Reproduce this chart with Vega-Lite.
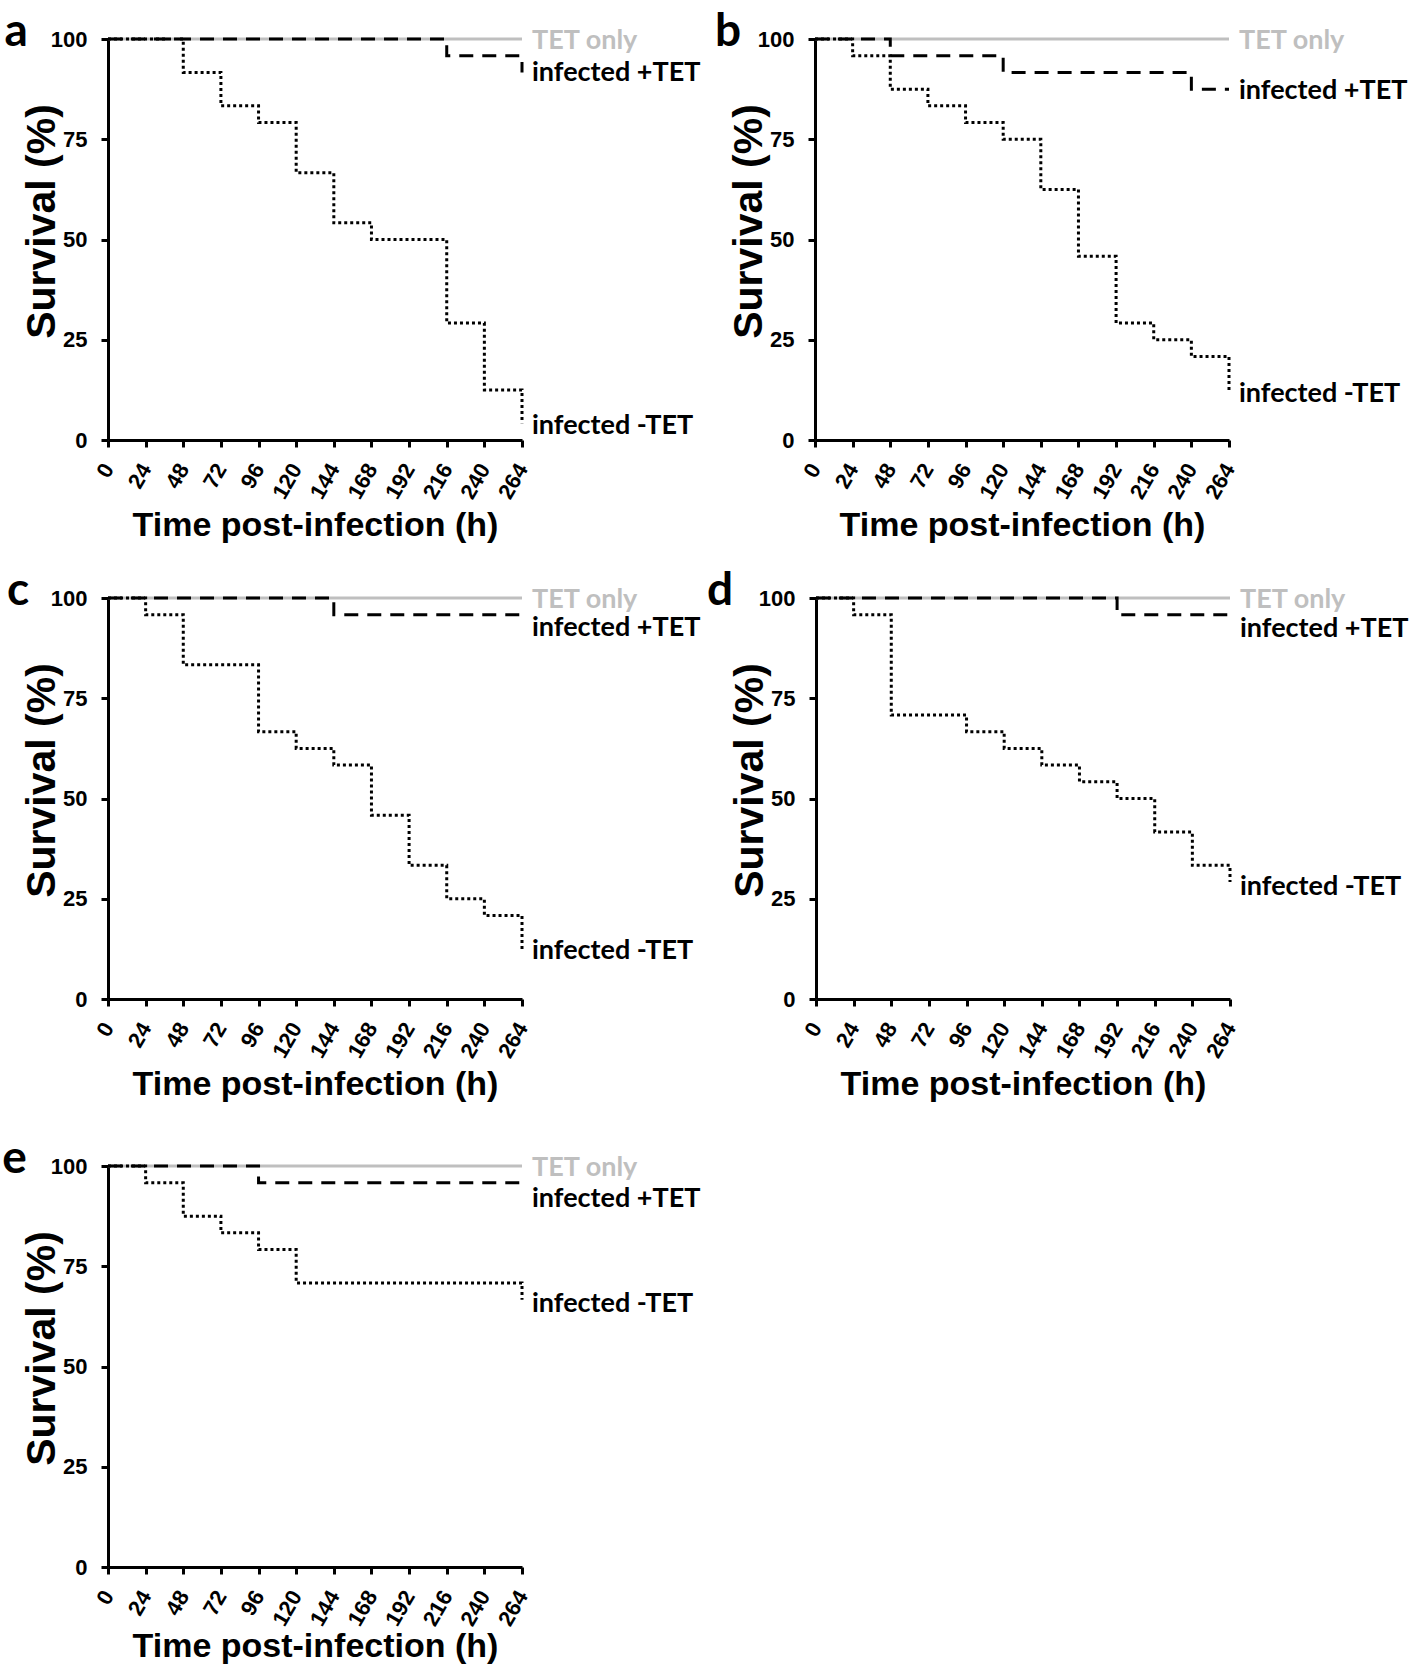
{
  "$schema": "https://vega.github.io/schema/vega-lite/v6.json",
  "background": "white",
  "padding": {"left": 2, "top": 9, "right": 2, "bottom": 0},
  "datasets": {
    "surv": [
      {"panel": "a", "series": "TET only", "t": 0, "s": 100},
      {"panel": "a", "series": "TET only", "t": 264, "s": 100},
      {"panel": "a", "series": "infected +TET", "t": 0, "s": 100},
      {"panel": "a", "series": "infected +TET", "t": 216, "s": 95.83},
      {"panel": "a", "series": "infected +TET", "t": 264, "s": 91.67},
      {"panel": "a", "series": "infected -TET", "t": 0, "s": 100},
      {"panel": "a", "series": "infected -TET", "t": 48, "s": 91.67},
      {"panel": "a", "series": "infected -TET", "t": 72, "s": 83.33},
      {"panel": "a", "series": "infected -TET", "t": 96, "s": 79.17},
      {"panel": "a", "series": "infected -TET", "t": 120, "s": 66.67},
      {"panel": "a", "series": "infected -TET", "t": 144, "s": 54.17},
      {"panel": "a", "series": "infected -TET", "t": 168, "s": 50},
      {"panel": "a", "series": "infected -TET", "t": 216, "s": 29.17},
      {"panel": "a", "series": "infected -TET", "t": 240, "s": 12.5},
      {"panel": "a", "series": "infected -TET", "t": 264, "s": 4.17},

      {"panel": "b", "series": "TET only", "t": 0, "s": 100},
      {"panel": "b", "series": "TET only", "t": 264, "s": 100},
      {"panel": "b", "series": "infected +TET", "t": 0, "s": 100},
      {"panel": "b", "series": "infected +TET", "t": 48, "s": 95.83},
      {"panel": "b", "series": "infected +TET", "t": 120, "s": 91.67},
      {"panel": "b", "series": "infected +TET", "t": 240, "s": 87.5},
      {"panel": "b", "series": "infected +TET", "t": 264, "s": 87.5},
      {"panel": "b", "series": "infected -TET", "t": 0, "s": 100},
      {"panel": "b", "series": "infected -TET", "t": 24, "s": 95.83},
      {"panel": "b", "series": "infected -TET", "t": 48, "s": 87.5},
      {"panel": "b", "series": "infected -TET", "t": 72, "s": 83.33},
      {"panel": "b", "series": "infected -TET", "t": 96, "s": 79.17},
      {"panel": "b", "series": "infected -TET", "t": 120, "s": 75},
      {"panel": "b", "series": "infected -TET", "t": 144, "s": 62.5},
      {"panel": "b", "series": "infected -TET", "t": 168, "s": 45.83},
      {"panel": "b", "series": "infected -TET", "t": 192, "s": 29.17},
      {"panel": "b", "series": "infected -TET", "t": 216, "s": 25},
      {"panel": "b", "series": "infected -TET", "t": 240, "s": 20.83},
      {"panel": "b", "series": "infected -TET", "t": 264, "s": 12.5},

      {"panel": "c", "series": "TET only", "t": 0, "s": 100},
      {"panel": "c", "series": "TET only", "t": 264, "s": 100},
      {"panel": "c", "series": "infected +TET", "t": 0, "s": 100},
      {"panel": "c", "series": "infected +TET", "t": 144, "s": 95.83},
      {"panel": "c", "series": "infected +TET", "t": 264, "s": 95.83},
      {"panel": "c", "series": "infected -TET", "t": 0, "s": 100},
      {"panel": "c", "series": "infected -TET", "t": 24, "s": 95.83},
      {"panel": "c", "series": "infected -TET", "t": 48, "s": 83.33},
      {"panel": "c", "series": "infected -TET", "t": 96, "s": 66.67},
      {"panel": "c", "series": "infected -TET", "t": 120, "s": 62.5},
      {"panel": "c", "series": "infected -TET", "t": 144, "s": 58.33},
      {"panel": "c", "series": "infected -TET", "t": 168, "s": 45.83},
      {"panel": "c", "series": "infected -TET", "t": 192, "s": 33.33},
      {"panel": "c", "series": "infected -TET", "t": 216, "s": 25},
      {"panel": "c", "series": "infected -TET", "t": 240, "s": 20.83},
      {"panel": "c", "series": "infected -TET", "t": 264, "s": 12.5},

      {"panel": "d", "series": "TET only", "t": 0, "s": 100},
      {"panel": "d", "series": "TET only", "t": 264, "s": 100},
      {"panel": "d", "series": "infected +TET", "t": 0, "s": 100},
      {"panel": "d", "series": "infected +TET", "t": 192, "s": 95.83},
      {"panel": "d", "series": "infected +TET", "t": 264, "s": 95.83},
      {"panel": "d", "series": "infected -TET", "t": 0, "s": 100},
      {"panel": "d", "series": "infected -TET", "t": 24, "s": 95.83},
      {"panel": "d", "series": "infected -TET", "t": 48, "s": 70.83},
      {"panel": "d", "series": "infected -TET", "t": 96, "s": 66.67},
      {"panel": "d", "series": "infected -TET", "t": 120, "s": 62.5},
      {"panel": "d", "series": "infected -TET", "t": 144, "s": 58.33},
      {"panel": "d", "series": "infected -TET", "t": 168, "s": 54.17},
      {"panel": "d", "series": "infected -TET", "t": 192, "s": 50},
      {"panel": "d", "series": "infected -TET", "t": 216, "s": 41.67},
      {"panel": "d", "series": "infected -TET", "t": 240, "s": 33.33},
      {"panel": "d", "series": "infected -TET", "t": 264, "s": 29.17},

      {"panel": "e", "series": "TET only", "t": 0, "s": 100},
      {"panel": "e", "series": "TET only", "t": 264, "s": 100},
      {"panel": "e", "series": "infected +TET", "t": 0, "s": 100},
      {"panel": "e", "series": "infected +TET", "t": 96, "s": 95.83},
      {"panel": "e", "series": "infected +TET", "t": 264, "s": 95.83},
      {"panel": "e", "series": "infected -TET", "t": 0, "s": 100},
      {"panel": "e", "series": "infected -TET", "t": 24, "s": 95.83},
      {"panel": "e", "series": "infected -TET", "t": 48, "s": 87.5},
      {"panel": "e", "series": "infected -TET", "t": 72, "s": 83.33},
      {"panel": "e", "series": "infected -TET", "t": 96, "s": 79.17},
      {"panel": "e", "series": "infected -TET", "t": 120, "s": 70.83},
      {"panel": "e", "series": "infected -TET", "t": 264, "s": 66.67}
    ],
    "labels": [
      {"panel": "a", "series": "TET only", "t": 264, "s": 100},
      {"panel": "a", "series": "infected +TET", "t": 264, "s": 92},
      {"panel": "a", "series": "infected -TET", "t": 264, "s": 4},
      {"panel": "b", "series": "TET only", "t": 264, "s": 100},
      {"panel": "b", "series": "infected +TET", "t": 264, "s": 87.5},
      {"panel": "b", "series": "infected -TET", "t": 264, "s": 12},
      {"panel": "c", "series": "TET only", "t": 264, "s": 100},
      {"panel": "c", "series": "infected +TET", "t": 264, "s": 93},
      {"panel": "c", "series": "infected -TET", "t": 264, "s": 12.5},
      {"panel": "d", "series": "TET only", "t": 264, "s": 100},
      {"panel": "d", "series": "infected +TET", "t": 264, "s": 92.7},
      {"panel": "d", "series": "infected -TET", "t": 264, "s": 28.5},
      {"panel": "e", "series": "TET only", "t": 264, "s": 100},
      {"panel": "e", "series": "infected +TET", "t": 264, "s": 92.2},
      {"panel": "e", "series": "infected -TET", "t": 264, "s": 66}
    ]
  },
  "vconcat": [
    {
      "vconcat": [
        {
          "hconcat": [
            {
              "width": 414, "height": 401,
              "title": {"text": "a"},
              "layer": [
                {"data": {"name": "surv"}, "transform": [{"filter": "datum.panel === 'a' && datum.series === 'TET only'"}],
                 "mark": {"type": "line", "interpolate": "step-after", "color": "#bfbfbf", "strokeWidth": 3},
                 "encoding": {
                   "x": {"field": "t", "type": "quantitative", "scale": {"domain": [0, 264], "nice": false}, "axis": {"values": [0, 24, 48, 72, 96, 120, 144, 168, 192, 216, 240, 264], "tickCount": 30, "labelOverlap": false, "title": "Time post-infection (h)"}},
                   "y": {"field": "s", "type": "quantitative", "scale": {"domain": [0, 100], "nice": false}, "axis": {"values": [0, 25, 50, 75, 100], "title": "Survival (%)"}}}},
                {"data": {"name": "surv"}, "transform": [{"filter": "datum.panel === 'a' && datum.series === 'infected +TET'"}],
                 "mark": {"type": "line", "interpolate": "step-after", "color": "black", "strokeWidth": 3, "strokeDash": [14, 9]},
                 "encoding": {"x": {"field": "t", "type": "quantitative"}, "y": {"field": "s", "type": "quantitative"}}},
                {"data": {"name": "surv"}, "transform": [{"filter": "datum.panel === 'a' && datum.series === 'infected -TET'"}],
                 "mark": {"type": "line", "interpolate": "step-after", "color": "black", "strokeWidth": 3, "strokeDash": [3, 3]},
                 "encoding": {"x": {"field": "t", "type": "quantitative"}, "y": {"field": "s", "type": "quantitative"}}},
                {"data": {"name": "labels"}, "transform": [{"filter": "datum.panel === 'a'"}],
                 "mark": {"type": "text", "align": "left", "baseline": "middle", "dx": 10, "dy": 2, "font": "Lato", "fontSize": 27, "fontWeight": "bold"},
                 "encoding": {"x": {"field": "t", "type": "quantitative"}, "y": {"field": "s", "type": "quantitative"}, "text": {"field": "series"},
                   "color": {"condition": {"test": "datum.series === 'TET only'", "value": "#bfbfbf"}, "value": "black"}}}
              ]
            },
            {
              "width": 414, "height": 401,
              "title": {"text": "b", "offset": -39},
              "layer": [
                {"data": {"name": "surv"}, "transform": [{"filter": "datum.panel === 'b' && datum.series === 'TET only'"}],
                 "mark": {"type": "line", "interpolate": "step-after", "color": "#bfbfbf", "strokeWidth": 3},
                 "encoding": {
                   "x": {"field": "t", "type": "quantitative", "scale": {"domain": [0, 264], "nice": false}, "axis": {"values": [0, 24, 48, 72, 96, 120, 144, 168, 192, 216, 240, 264], "tickCount": 30, "labelOverlap": false, "title": "Time post-infection (h)"}},
                   "y": {"field": "s", "type": "quantitative", "scale": {"domain": [0, 100], "nice": false}, "axis": {"values": [0, 25, 50, 75, 100], "title": "Survival (%)"}}}},
                {"data": {"name": "surv"}, "transform": [{"filter": "datum.panel === 'b' && datum.series === 'infected +TET'"}],
                 "mark": {"type": "line", "interpolate": "step-after", "color": "black", "strokeWidth": 3, "strokeDash": [14, 9]},
                 "encoding": {"x": {"field": "t", "type": "quantitative"}, "y": {"field": "s", "type": "quantitative"}}},
                {"data": {"name": "surv"}, "transform": [{"filter": "datum.panel === 'b' && datum.series === 'infected -TET'"}],
                 "mark": {"type": "line", "interpolate": "step-after", "color": "black", "strokeWidth": 3, "strokeDash": [3, 3]},
                 "encoding": {"x": {"field": "t", "type": "quantitative"}, "y": {"field": "s", "type": "quantitative"}}},
                {"data": {"name": "labels"}, "transform": [{"filter": "datum.panel === 'b'"}],
                 "mark": {"type": "text", "align": "left", "baseline": "middle", "dx": 10, "dy": 2, "font": "Lato", "fontSize": 27, "fontWeight": "bold"},
                 "encoding": {"x": {"field": "t", "type": "quantitative"}, "y": {"field": "s", "type": "quantitative"}, "text": {"field": "series"},
                   "color": {"condition": {"test": "datum.series === 'TET only'", "value": "#bfbfbf"}, "value": "black"}}}
              ]
            }
          ],
          "spacing": 14
        },
        {
          "hconcat": [
            {
              "width": 414, "height": 401,
              "title": {"text": "c"},
              "layer": [
                {"data": {"name": "surv"}, "transform": [{"filter": "datum.panel === 'c' && datum.series === 'TET only'"}],
                 "mark": {"type": "line", "interpolate": "step-after", "color": "#bfbfbf", "strokeWidth": 3},
                 "encoding": {
                   "x": {"field": "t", "type": "quantitative", "scale": {"domain": [0, 264], "nice": false}, "axis": {"values": [0, 24, 48, 72, 96, 120, 144, 168, 192, 216, 240, 264], "tickCount": 30, "labelOverlap": false, "title": "Time post-infection (h)"}},
                   "y": {"field": "s", "type": "quantitative", "scale": {"domain": [0, 100], "nice": false}, "axis": {"values": [0, 25, 50, 75, 100], "title": "Survival (%)"}}}},
                {"data": {"name": "surv"}, "transform": [{"filter": "datum.panel === 'c' && datum.series === 'infected +TET'"}],
                 "mark": {"type": "line", "interpolate": "step-after", "color": "black", "strokeWidth": 3, "strokeDash": [14, 9]},
                 "encoding": {"x": {"field": "t", "type": "quantitative"}, "y": {"field": "s", "type": "quantitative"}}},
                {"data": {"name": "surv"}, "transform": [{"filter": "datum.panel === 'c' && datum.series === 'infected -TET'"}],
                 "mark": {"type": "line", "interpolate": "step-after", "color": "black", "strokeWidth": 3, "strokeDash": [3, 3]},
                 "encoding": {"x": {"field": "t", "type": "quantitative"}, "y": {"field": "s", "type": "quantitative"}}},
                {"data": {"name": "labels"}, "transform": [{"filter": "datum.panel === 'c'"}],
                 "mark": {"type": "text", "align": "left", "baseline": "middle", "dx": 10, "dy": 2, "font": "Lato", "fontSize": 27, "fontWeight": "bold"},
                 "encoding": {"x": {"field": "t", "type": "quantitative"}, "y": {"field": "s", "type": "quantitative"}, "text": {"field": "series"},
                   "color": {"condition": {"test": "datum.series === 'TET only'", "value": "#bfbfbf"}, "value": "black"}}}
              ]
            },
            {
              "width": 414, "height": 401,
              "title": {"text": "d"},
              "layer": [
                {"data": {"name": "surv"}, "transform": [{"filter": "datum.panel === 'd' && datum.series === 'TET only'"}],
                 "mark": {"type": "line", "interpolate": "step-after", "color": "#bfbfbf", "strokeWidth": 3},
                 "encoding": {
                   "x": {"field": "t", "type": "quantitative", "scale": {"domain": [0, 264], "nice": false}, "axis": {"values": [0, 24, 48, 72, 96, 120, 144, 168, 192, 216, 240, 264], "tickCount": 30, "labelOverlap": false, "title": "Time post-infection (h)"}},
                   "y": {"field": "s", "type": "quantitative", "scale": {"domain": [0, 100], "nice": false}, "axis": {"values": [0, 25, 50, 75, 100], "title": "Survival (%)"}}}},
                {"data": {"name": "surv"}, "transform": [{"filter": "datum.panel === 'd' && datum.series === 'infected +TET'"}],
                 "mark": {"type": "line", "interpolate": "step-after", "color": "black", "strokeWidth": 3, "strokeDash": [14, 9]},
                 "encoding": {"x": {"field": "t", "type": "quantitative"}, "y": {"field": "s", "type": "quantitative"}}},
                {"data": {"name": "surv"}, "transform": [{"filter": "datum.panel === 'd' && datum.series === 'infected -TET'"}],
                 "mark": {"type": "line", "interpolate": "step-after", "color": "black", "strokeWidth": 3, "strokeDash": [3, 3]},
                 "encoding": {"x": {"field": "t", "type": "quantitative"}, "y": {"field": "s", "type": "quantitative"}}},
                {"data": {"name": "labels"}, "transform": [{"filter": "datum.panel === 'd'"}],
                 "mark": {"type": "text", "align": "left", "baseline": "middle", "dx": 10, "dy": 2, "font": "Lato", "fontSize": 27, "fontWeight": "bold"},
                 "encoding": {"x": {"field": "t", "type": "quantitative"}, "y": {"field": "s", "type": "quantitative"}, "text": {"field": "series"},
                   "color": {"condition": {"test": "datum.series === 'TET only'", "value": "#bfbfbf"}, "value": "black"}}}
              ]
            }
          ],
          "spacing": 6
        }
      ],
      "spacing": 25
    },
    {
      "width": 414, "height": 401,
      "title": {"text": "e"},
      "layer": [
        {"data": {"name": "surv"}, "transform": [{"filter": "datum.panel === 'e' && datum.series === 'TET only'"}],
         "mark": {"type": "line", "interpolate": "step-after", "color": "#bfbfbf", "strokeWidth": 3},
         "encoding": {
           "x": {"field": "t", "type": "quantitative", "scale": {"domain": [0, 264], "nice": false}, "axis": {"values": [0, 24, 48, 72, 96, 120, 144, 168, 192, 216, 240, 264], "tickCount": 30, "labelOverlap": false, "titlePadding": 0, "title": "Time post-infection (h)"}},
           "y": {"field": "s", "type": "quantitative", "scale": {"domain": [0, 100], "nice": false}, "axis": {"values": [0, 25, 50, 75, 100], "title": "Survival (%)"}}}},
        {"data": {"name": "surv"}, "transform": [{"filter": "datum.panel === 'e' && datum.series === 'infected +TET'"}],
         "mark": {"type": "line", "interpolate": "step-after", "color": "black", "strokeWidth": 3, "strokeDash": [14, 9]},
         "encoding": {"x": {"field": "t", "type": "quantitative"}, "y": {"field": "s", "type": "quantitative"}}},
        {"data": {"name": "surv"}, "transform": [{"filter": "datum.panel === 'e' && datum.series === 'infected -TET'"}],
         "mark": {"type": "line", "interpolate": "step-after", "color": "black", "strokeWidth": 3, "strokeDash": [3, 3]},
         "encoding": {"x": {"field": "t", "type": "quantitative"}, "y": {"field": "s", "type": "quantitative"}}},
        {"data": {"name": "labels"}, "transform": [{"filter": "datum.panel === 'e'"}],
         "mark": {"type": "text", "align": "left", "baseline": "middle", "dx": 10, "dy": 2, "font": "Lato", "fontSize": 27, "fontWeight": "bold"},
         "encoding": {"x": {"field": "t", "type": "quantitative"}, "y": {"field": "s", "type": "quantitative"}, "text": {"field": "series"},
           "color": {"condition": {"test": "datum.series === 'TET only'", "value": "#bfbfbf"}, "value": "black"}}}
      ]
    }
  ],
  "spacing": 34,
  "config": {
    "view": {"stroke": null},
    "axis": {
      "grid": false,
      "domainColor": "black", "domainWidth": 3,
      "tickColor": "black", "tickWidth": 3, "tickSize": 7,
      "labelFont": "Liberation Sans", "labelFontWeight": "bold", "labelFontSize": 22, "labelColor": "black",
      "labelOverlap": false, "labelFlush": false,
      "titleFont": "Liberation Sans", "titleFontWeight": "bold", "titleColor": "black"
    },
    "axisX": {"labelAngle": -60, "labelPadding": 18, "labelOverlap": false, "titleFontSize": 34, "titlePadding": 6},
    "axisY": {"labelPadding": 14, "titleFontSize": 41, "titlePadding": -13, "titleY": 182},
    "title": {"orient": "left", "anchor": "end", "angle": 0, "align": "right", "baseline": "alphabetic", "font": "Lato", "fontSize": 46, "fontWeight": "bold", "color": "black", "offset": -30, "dy": -17}
  }
}
